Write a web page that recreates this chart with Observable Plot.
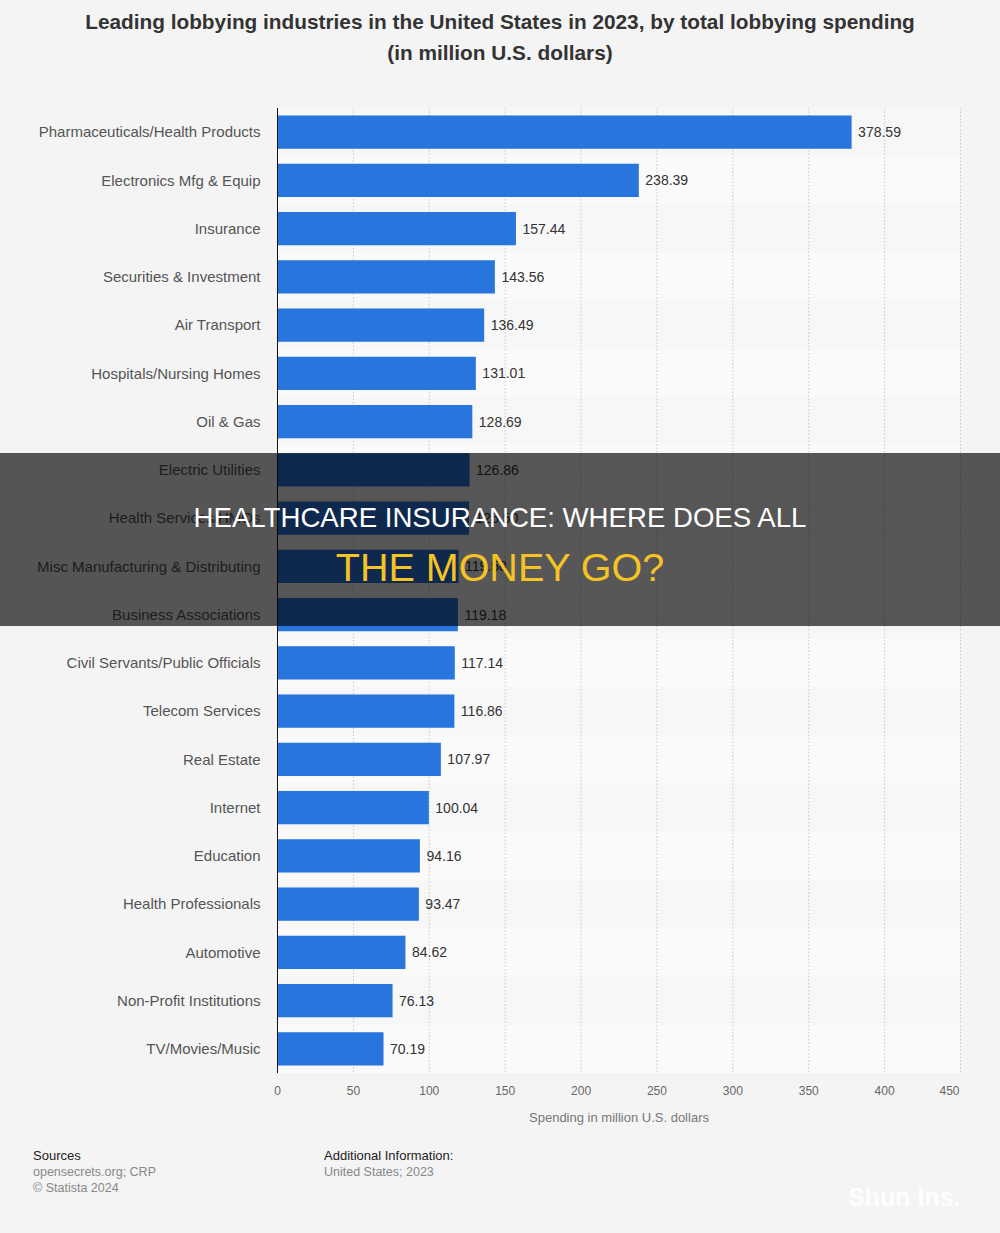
<!DOCTYPE html>
<html>
<head>
<meta charset="utf-8">
<script src="https://cdn.jsdelivr.net/npm/d3@7"></script>
<script src="https://cdn.jsdelivr.net/npm/@observablehq/plot@0.6"></script>
<style>
  html, body { margin: 0; padding: 0; background: #f4f4f4; }
  body { width: 1000px; height: 1233px; position: relative; overflow: hidden;
         font-family: "Liberation Sans", Arial, sans-serif; }
  #title { position: absolute; top: 6px; left: 0; width: 1000px; text-align: center;
           font-size: 20.8px; font-weight: bold; color: #333; line-height: 31px; }
  #chart { position: absolute; top: 90px; left: 0; }
  .foot { position: absolute; font-size: 12.5px; line-height: 16px; color: #888; }
  .foot b { font-weight: normal; color: #222; font-size: 13px; }
  #banner { position: absolute; left: 0; top: 453px; width: 1000px; height: 173px;
            background: rgba(0,0,0,0.65); text-align: center; }
  #banner .l1 { position: absolute; top: 49px; width: 100%; color: #fff; font-size: 27.6px; }
  #banner .l2 { position: absolute; top: 92px; width: 100%; color: #f6c324; font-size: 39.5px; }
  #mark { position: absolute; left: 848px; top: 1183px; font-size: 25px; font-weight: bold;
          color: #fff; opacity: 0.85; filter: blur(0.6px); }
</style>
</head>
<body>
<div id="title">Leading lobbying industries in the United States in 2023, by total lobbying spending<br>(in million U.S. dollars)</div>
<div id="chart"></div>
<div class="foot" style="left:33px; top:1148px;"><b>Sources</b><br>opensecrets.org; CRP<br>© Statista 2024</div>
<div class="foot" style="left:324px; top:1148px;"><b>Additional Information:</b><br>United States; 2023</div>
<div id="banner"><div class="l1">HEALTHCARE INSURANCE: WHERE DOES ALL</div><div class="l2">THE MONEY GO?</div></div>
<div id="mark">Shun Ins.</div>
<script>
// Lobbying spending by industry, 2023 (million U.S. dollars)
const industries = [
  "Pharmaceuticals/Health Products", "Electronics Mfg & Equip", "Insurance",
  "Securities & Investment", "Air Transport", "Hospitals/Nursing Homes",
  "Oil & Gas", "Electric Utilities", "Health Services/HMOs",
  "Misc Manufacturing & Distributing", "Business Associations",
  "Civil Servants/Public Officials", "Telecom Services", "Real Estate",
  "Internet", "Education", "Health Professionals", "Automotive",
  "Non-Profit Institutions", "TV/Movies/Music"
];
const spending = [
  378.59, 238.39, 157.44, 143.56, 136.49, 131.01, 128.69, 126.86, 126.5,
  119.58, 119.18, 117.14, 116.86, 107.97, 100.04, 94.16, 93.47, 84.62,
  76.13, 70.19
];
const xTicks = [0, 50, 100, 150, 200, 250, 300, 350, 400, 450];

const data = industries.map((name, i) => ({name, value: spending[i], odd: i % 2 === 1}));

const tickStyle = {tickSize: 0, tickPadding: 13, fontSize: 12, color: "#666", label: null};

const chart = Plot.plot({
  width: 1000,
  height: 1040,
  marginTop: 18,
  marginBottom: 57,
  marginLeft: 277,
  marginRight: 40,
  style: {background: "transparent", fontFamily: "Liberation Sans, Arial, sans-serif"},
  x: {domain: [0, 450], label: null},
  y: {domain: industries, paddingInner: 0.31, paddingOuter: 0.155, round: false, label: null},
  marks: [
    // faint alternating row stripes across the plot area
    Plot.barX(data, {y: "name", x1: 0, x2: 450, fill: d => d.odd ? "#fafafa" : "#f7f7f7",
      insetTop: -7.5, insetBottom: -7.5}),
    Plot.gridX(xTicks.slice(1), {stroke: "#c8c8c8", strokeOpacity: 1, strokeDasharray: "1.5,2"}),
    Plot.barX(data, {y: "name", x: "value", fill: "#2876dd"}),
    Plot.ruleX([0], {stroke: "#111", strokeWidth: 1}),
    Plot.text(data, {y: "name", x: "value", text: d => d.value.toFixed(2), dx: 6,
      textAnchor: "start", fontSize: 14, fill: "#333"}),
    Plot.axisY({tickSize: 0, tickPadding: 17, fontSize: 15, color: "#555"}),
    // the last tick label is pulled inward so it stays clear of the edge
    Plot.axisX({...tickStyle, ticks: xTicks.slice(0, -1)}),
    Plot.axisX({...tickStyle, ticks: xTicks.slice(-1), dx: -11}),
    Plot.axisX({ticks: [], tickSize: 0, fontSize: 13, color: "#777",
      label: "Spending in million U.S. dollars", labelAnchor: "center", labelArrow: "none",
      labelOffset: 48})
  ]
});
document.getElementById("chart").appendChild(chart);
</script>
</body>
</html>
